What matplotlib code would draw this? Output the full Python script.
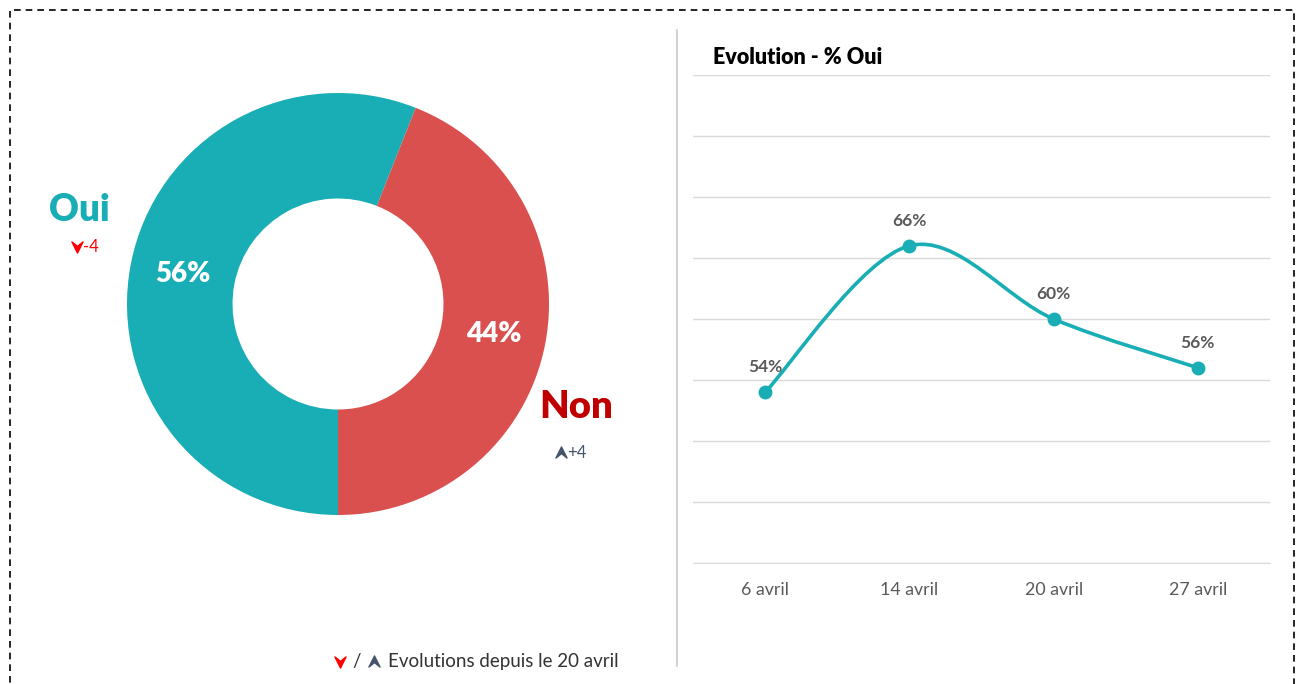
import matplotlib
matplotlib.use("Agg")
import matplotlib.pyplot as plt
import numpy as np
from matplotlib.patches import Rectangle
from matplotlib.path import Path
from matplotlib.patches import PathPatch
from matplotlib.lines import Line2D

plt.rcParams['font.family'] = ['Lato', 'DejaVu Sans']

# data
answers = ['Oui', 'Non']
shares = [56, 44]
changes = ['-4', '+4']
dates = ['6 avril', '14 avril', '20 avril', '27 avril']
oui_pct = [54, 66, 60, 56]

TEAL = '#19AEB5'
RED = '#D9504E'
DARKRED = '#C00000'
BLUE = '#44546A'
GREY = '#595959'

W, H = 1298, 684
fig = plt.figure(figsize=(W / 100, H / 100), dpi=100)


def fx(x):
    return x / W


def fy(y):
    return 1 - y / H


# dashed frame
fig.patches.append(Rectangle((fx(10), fy(700)), fx(1284), 690 / H, transform=fig.transFigure,
                             fill=False, ec='black', lw=1.2, ls=(0, (4, 3))))
# separator
fig.add_artist(Line2D([fx(677), fx(677)], [fy(30), fy(666)], color='#C8C8C8', lw=1.2))

# donut
cx, cy, r = 338, 304, 211
axd = fig.add_axes([fx(cx - r), fy(cy + r), 2 * r / W, 2 * r / H])
wedges, texts, autotexts = axd.pie(shares, colors=[TEAL, RED], startangle=-90, counterclock=False,
                                   radius=1, wedgeprops=dict(width=0.5, edgecolor='none'),
                                   autopct='%d%%', pctdistance=0.75,
                                   textprops=dict(color='white', fontsize=20, fontweight='heavy'))
axd.set_xlim(-1, 1)
axd.set_ylim(-1, 1)
axd.axis('off')

fig.text(fx(79), fy(210), answers[0], color=TEAL, fontsize=26.5, fontweight='heavy', ha='center', va='center')
fig.text(fx(576), fy(407), answers[1], color=DARKRED, fontsize=27.5, fontweight='heavy', ha='center', va='center')

chev_down = Path([(-1, 1), (0, -1), (1, 1), (0, 0.2), (-1, 1)],
                 [Path.MOVETO, Path.LINETO, Path.LINETO, Path.LINETO, Path.CLOSEPOLY])
chev_up = Path([(-1, -1), (0, 1), (1, -1), (0, -0.2), (-1, -1)],
               [Path.MOVETO, Path.LINETO, Path.LINETO, Path.LINETO, Path.CLOSEPOLY])


def chevron(x, y, path, color, size=8):
    fig.add_artist(Line2D([fx(x)], [fy(y)], marker=path, markersize=size, color=color, ls='none',
                          transform=fig.transFigure))


chevron(77, 247, chev_down, 'red')
fig.text(fx(83), fy(247), changes[0], color='red', fontsize=12, ha='left', va='center')
chevron(561, 452, chev_up, BLUE)
fig.text(fx(567), fy(453), changes[1], color=BLUE, fontsize=12, ha='left', va='center')

# footnote
chevron(340, 662, chev_down, 'red')
fig.text(fx(357), fy(662), '/', color='#333333', fontsize=13.5, ha='center', va='center')
chevron(374, 661, chev_up, BLUE)
fig.text(fx(388), fy(662), 'Evolutions depuis le 20 avril', color='#333333', fontsize=13.5,
         ha='left', va='center')

# line chart
ax = fig.add_axes([fx(693), fy(563), (1270 - 693) / W, (563 - 75) / H])
x = np.arange(len(oui_pct))
y = np.array(oui_pct, dtype=float)

# smoothed line drawn as cubic bezier (catmull-rom control points)
pts = np.column_stack([x, y])
ext = np.vstack([pts[0], pts, pts[-1]])
verts = [tuple(pts[0])]
codes = [Path.MOVETO]
for i in range(len(pts) - 1):
    p0, p1, p2, p3 = ext[i], ext[i + 1], ext[i + 2], ext[i + 3]
    c1 = p1 + (p2 - p0) / 6
    c2 = p2 - (p3 - p1) / 6
    verts += [tuple(c1), tuple(c2), tuple(p2)]
    codes += [Path.CURVE4] * 3
ax.add_patch(PathPatch(Path(verts, codes), fill=False, ec=TEAL, lw=2.6, capstyle='round', zorder=3))
ax.plot(x, y, 'o', color=TEAL, markersize=9, zorder=4)
for xi, yi in zip(x, y):
    ax.annotate(f'{yi:.0f}%', (xi, yi), xytext=(0, 18), textcoords='offset points',
                ha='center', va='center', color=GREY, fontsize=12.5, fontweight='bold')

ax.set_xlim(-0.5, 3.5)
ax.set_ylim(40, 80)
ax.set_yticks(np.arange(40, 81, 5))
ax.set_yticklabels([])
ax.grid(axis='y', color='#D9D9D9', lw=1)
ax.set_axisbelow(True)
ax.set_xticks(x)
ax.set_xticklabels(dates, color=GREY, fontsize=12.8)
ax.tick_params(axis='both', length=0, pad=14)
for s in ax.spines.values():
    s.set_visible(False)
ax.spines['bottom'].set_visible(True)
ax.spines['bottom'].set_color('#D9D9D9')

fig.text(fx(713), fy(57), 'Evolution - % Oui', fontsize=15.5, fontweight='heavy', color='black',
         ha='left', va='center')

fig.savefig('out.png', dpi=100)
